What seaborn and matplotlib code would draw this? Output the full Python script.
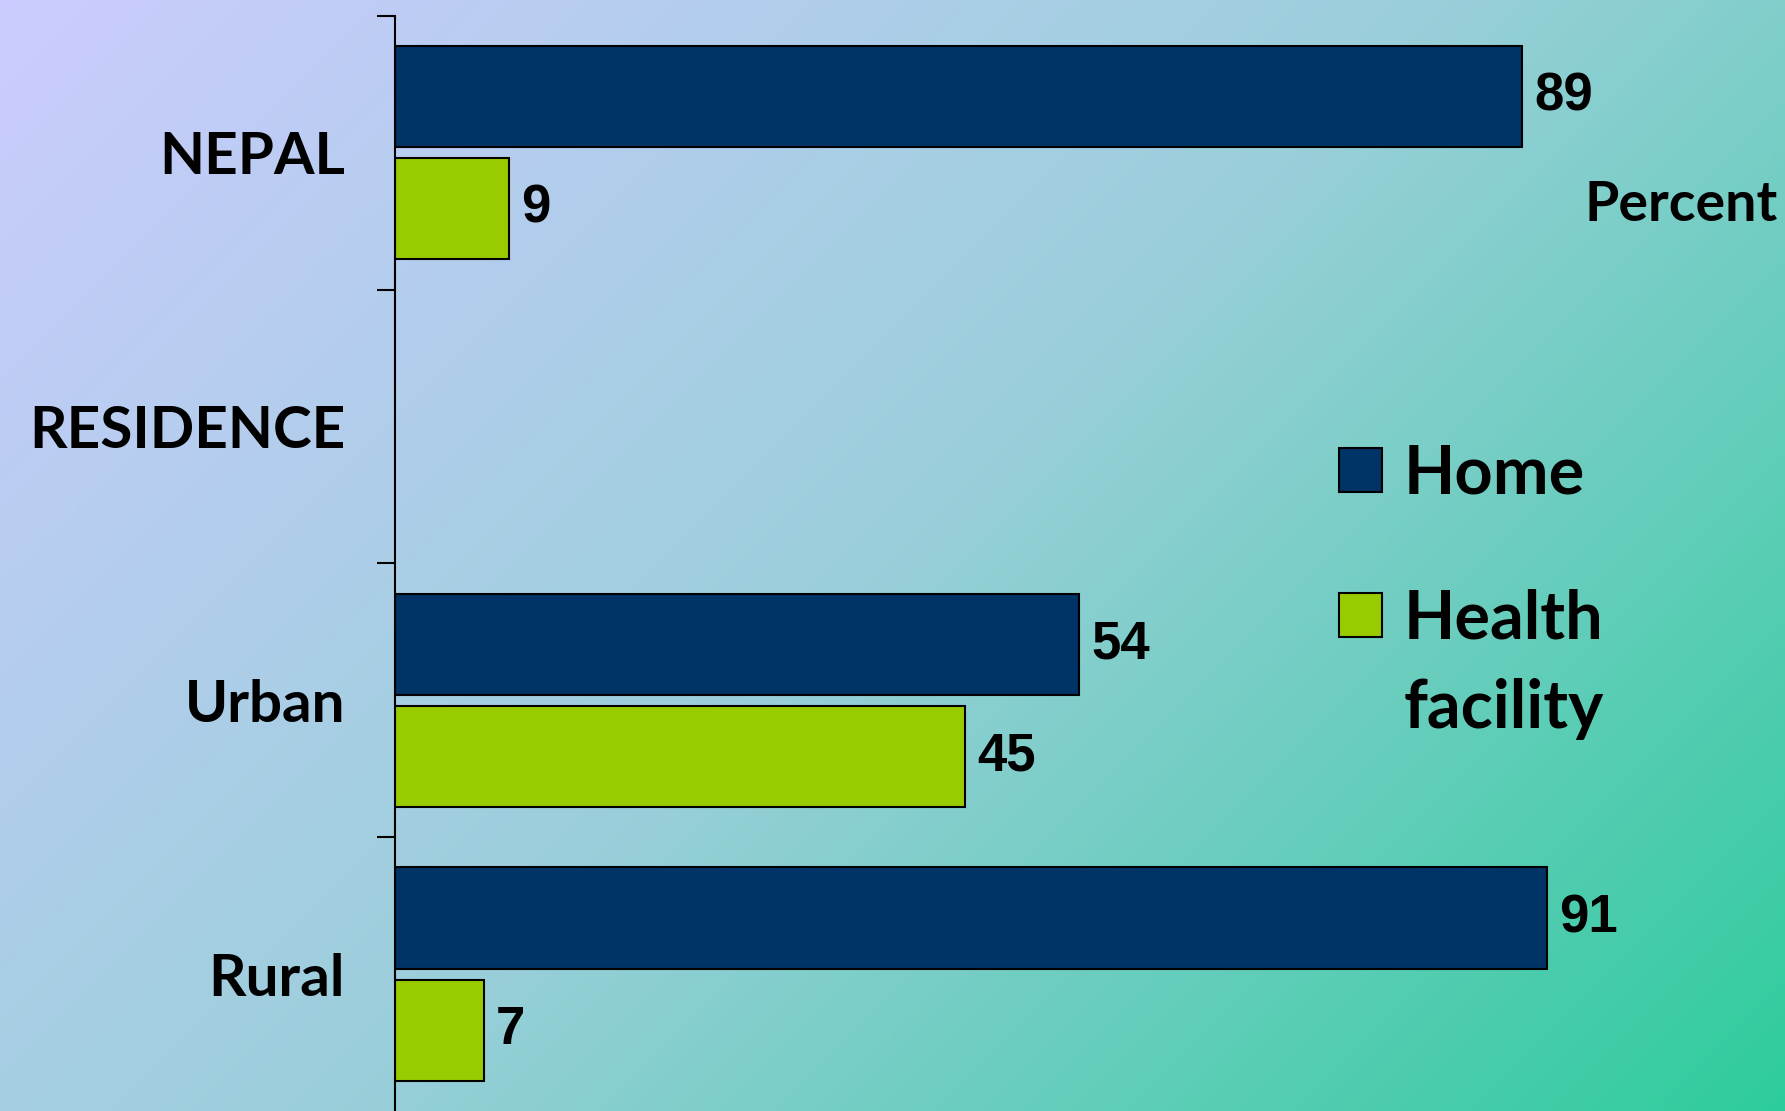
import numpy as np
import pandas as pd
import matplotlib
matplotlib.use("Agg")
import matplotlib.pyplot as plt
from matplotlib.colors import LinearSegmentedColormap
import seaborn as sns

# Data
categories = ["NEPAL", "RESIDENCE", "Urban", "Rural"]
groups = ["NEPAL", "Urban", "Rural"]
home = [89, 54, 91]
health_facility = [9, 45, 7]
series = ["Home", "Health facility"]
colors = ["#003366", "#99CC00"]

df = pd.DataFrame({
    "group": groups * 2,
    "place": [series[0]] * len(groups) + [series[1]] * len(groups),
    "percent": home + health_facility,
})

sns.set_style("white")
plt.rcParams['font.family'] = ['Lato', 'DejaVu Sans']
plt.rcParams['text.color'] = 'black'
plt.rcParams['ytick.color'] = 'black'
plt.rcParams['xtick.color'] = 'black'

fig = plt.figure(figsize=(17.85, 11.11), dpi=100)

# diagonal gradient background
bg = fig.add_axes([0, 0, 1, 1], zorder=-10)
W, H = 1785, 1111
xx, yy = np.meshgrid(np.arange(W), np.arange(H))
t = (xx + yy) / (W + H)
cmap = LinearSegmentedColormap.from_list(
    "bg", [(0, "#CCCCFF"), (0.5, "#9ACFDA"), (1, "#2ECC9C")])
bg.imshow(t, cmap=cmap, aspect="auto", extent=[0, 1, 0, 1], origin="upper")
bg.axis("off")

# bars
ax = fig.add_axes([0.2213, 0, 0.7787, 0.9856])
ax.patch.set_alpha(0)
sns.barplot(data=df, y="group", x="percent", hue="place", order=categories,
            hue_order=series, palette=colors, saturation=1, orient="h",
            width=0.82, gap=0.1, edgecolor="black", linewidth=1.5,
            errorbar=None, ax=ax)

ax.set_xlim(0, 109.8)
ax.set_ylim(3.5, -0.5)
ax.set_xlabel("")
ax.set_ylabel("")
for s in ["top", "right", "bottom"]:
    ax.spines[s].set_visible(False)
ax.spines["left"].set_color("black")
ax.spines["left"].set_linewidth(1.5)
ax.set_xticks([])

# ticks between categories, labels at category centres
ax.set_yticks([-0.5, 0.5, 1.5, 2.5])
ax.set_yticklabels([])
ax.tick_params(axis="y", which="major", length=13, width=1.5, color="black",
               direction="out", left=True)
ax.set_yticks(range(len(categories)), minor=True)
ax.set_yticklabels(categories, minor=True, fontsize=42, fontweight="bold")
ax.tick_params(axis="y", which="minor", length=0, pad=36, left=True)

# value labels
for container in ax.containers:
    ax.bar_label(container, fmt="%.0f", padding=9, fontsize=38,
                 fontweight="bold", family="Liberation Sans", color="black")

fig.text(0.996, 0.8155, "Percent", ha="right", va="center", fontsize=40,
         fontweight="bold")

# legend
handles, _ = ax.get_legend_handles_labels()
leg = ax.legend(handles, ["Home", "Health"], loc="upper left",
                bbox_to_anchor=(0.750, 0.601), bbox_transform=fig.transFigure,
                frameon=False, prop={"size": 48, "weight": "bold"},
                handlelength=0.65, handleheight=0.65, handletextpad=0.32,
                labelspacing=1.25, borderpad=0, borderaxespad=0)
fig.canvas.draw()
health_text = leg.get_texts()[1]
ax.annotate("facility", xy=(0, 0), xycoords=health_text, xytext=(0, -20),
            textcoords="offset points", ha="left", va="top", fontsize=48,
            fontweight="bold", zorder=10)

plt.savefig("out.png", dpi=100)
